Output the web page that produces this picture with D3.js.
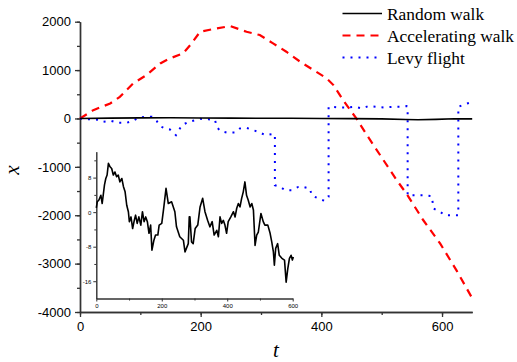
<!DOCTYPE html>
<meta charset="utf-8">
<style>
body { margin: 0; background: #fff; }
svg { display: block; }
.axis path, .axis line { stroke: #333; }
.axis text { font-family: Arial, "Liberation Sans", sans-serif; fill: #000; }
.legend text { font-family: "Liberation Serif", "Times New Roman", serif; font-size: 17.4px; }
.axis-label { font-family: "Liberation Serif", "Times New Roman", serif; font-style: italic; font-size: 21px; }
</style>
<svg width="517" height="362"></svg>
<script src="https://cdnjs.cloudflare.com/ajax/libs/d3/7.8.5/d3.min.js"></script>
<script>

// main random walk (flat near zero on this scale)
var walkT = [0, 50, 100, 150, 200, 250, 300, 350, 400, 450, 500, 540, 560, 590, 620, 650];
var walkX = [0, 8, 12, 15, 10, 8, 5, 3, 0, -3, -8, -20, -25, -18, -5, -8];

// accelerating walk
var accelT = [0, 22, 50, 66, 88, 110, 133, 149, 171, 185, 199, 221, 249, 276, 298, 320, 342, 365, 387, 409, 420, 436, 458, 481, 503, 525, 541, 569, 597, 624, 652];
var accelX = [0, 172, 310, 447, 724, 896, 1138, 1241, 1345, 1552, 1792, 1848, 1910, 1792, 1724, 1552, 1380, 1172, 1000, 828, 690, 379, 0, -449, -863, -1277, -1552, -2104, -2587, -3139, -3760];

// levy flight (jumps are the repeated times)
var levyT = [0, 14, 27, 39, 52, 63, 77, 88, 97, 108, 119, 127, 133, 141, 149, 159, 169, 180, 191, 199, 213, 224, 226, 232, 243, 257, 265, 276, 287, 296, 307, 318, 323, 323, 332, 340, 351, 362, 370, 381, 384, 395, 406, 412, 412, 417, 431, 445, 456, 467, 478, 492, 503, 517, 530, 541, 543, 543, 555, 569, 583, 586, 597, 605, 616, 627, 627, 638, 652];
var levyX = [0, -15, -20, -70, -50, -90, -90, -50, 20, 35, 35, -50, -160, -207, -228, -345, -138, -70, -35, -8, -15, -35, -160, -256, -290, -290, -207, -194, -242, -277, -345, -324, -330, -1380, -1414, -1483, -1483, -1414, -1414, -1448, -1587, -1655, -1705, -1620, 240, 240, 228, 228, 240, 207, 255, 240, 228, 240, 240, 255, 250, -1587, -1587, -1587, -1607, -1862, -1931, -2000, -2000, -2000, 240, 296, 345];

// inset: random walk at its own scale
var insetT = [0, 3, 8, 14, 18, 25, 29, 33, 37, 42, 47, 52, 57, 62, 67, 72, 78, 83, 88, 93, 98, 101, 106, 111, 116, 120, 125, 130, 136, 141, 146, 151, 156, 161, 166, 170, 176, 181, 188, 192, 200, 206, 213, 220, 230, 240, 245, 255, 266, 271, 281, 284, 286, 291, 296, 302, 310, 317, 325, 332, 340, 347, 354, 360, 368, 373, 378, 383, 388, 393, 398, 403, 411, 419, 424, 429, 434, 439, 444, 449, 454, 459, 464, 470, 475, 480, 485, 490, 495, 503, 510, 515, 524, 531, 536, 541, 544, 548, 554, 559, 567, 575, 580, 585, 590, 595, 599, 602];
var insetX = [1, 2.4, 2.8, 3.9, 2.0, 6.3, 7.8, 8.6, 11.3, 10.5, 10.1, 8.6, 9.3, 8.2, 8.6, 7.0, 7.8, 5.9, 4.7, 1.6, 0.1, -2.2, -1.1, -3.8, -1.9, -0.7, -2.6, -1.1, -3.0, 0.1, -2.2, -1.1, -2.2, -4.9, -3.0, -8.8, -6.5, -5.3, -5.3, -3.0, -2.6, 1.0, 5.5, 2.0, 2.4, 0.1, -3.4, -5.7, -6.5, -9.2, -7.3, -1.1, -1.1, -6.9, -7.3, -3.8, -3.0, 1.2, 3.2, 0.1, -1.9, -3.4, -2.2, -5.3, -4.2, -5.7, -1.1, -2.6, -1.9, -3.0, -4.9, -2.2, -1.1, 0.1, -1.1, 0.9, 2.0, 1.2, 3.2, 4.7, 7.0, 3.9, 2.8, 1.2, 2.0, 0.5, -7.7, -5.3, -4.6, -0.3, -2.2, -3.0, -3.0, -4.9, -6.9, -9.2, -12.3, -8.4, -7.3, -10.0, -10.7, -11.1, -16.2, -13.1, -10.7, -10.0, -11.1, -10.4];

var legendNames = ["Random walk", "Accelerating walk", "Levy flight"];

var svg = d3.select("svg");

var x = d3.scaleLinear().domain([0, 650]).range([80, 472.2]),
    y = d3.scaleLinear().domain([-4000, 2000]).range([312, 21.7]);

var plain = function(d) { return String(d); };

function zip(ts, vs) { return ts.map(function(t, i) { return [t, vs[i]]; }); }

var line = d3.line()
    .x(function(d) { return x(d[0]); })
    .y(function(d) { return y(d[1]); });

// main axes
svg.append("g")
    .attr("class", "axis")
    .attr("transform", "translate(80,0)")
    .call(d3.axisLeft(y).tickValues(d3.range(-4000, 2001, 500)).tickFormat("").tickSize(3).tickSizeOuter(0));
svg.append("g")
    .attr("class", "axis")
    .attr("transform", "translate(80,0)")
    .call(d3.axisLeft(y).tickValues(d3.range(-4000, 2001, 1000)).tickFormat(plain).tickSize(5).tickSizeOuter(0).tickPadding(4))
    .selectAll("text").style("font-size", "13px");
svg.append("g")
    .attr("class", "axis")
    .attr("transform", "translate(0,312)")
    .call(d3.axisBottom(x).tickValues(d3.range(0, 651, 100)).tickFormat("").tickSize(3).tickSizeOuter(0));
svg.append("g")
    .attr("class", "axis")
    .attr("transform", "translate(0,312)")
    .call(d3.axisBottom(x).tickValues([0, 200, 400, 600]).tickFormat(plain).tickSize(5).tickSizeOuter(0).tickPadding(5))
    .selectAll("text").style("font-size", "13px");
svg.selectAll(".axis path").attr("stroke-width", 1.4);
svg.selectAll(".axis line").attr("stroke-width", 1.3);

svg.append("text")
    .attr("class", "axis-label")
    .attr("transform", "translate(19,170) rotate(-90)")
    .attr("text-anchor", "middle")
    .text("x");
svg.append("text")
    .attr("class", "axis-label")
    .attr("x", 276)
    .attr("y", 357)
    .attr("text-anchor", "middle")
    .text("t");

// series
svg.append("path")
    .datum(zip(accelT, accelX))
    .attr("fill", "none")
    .attr("stroke", "#ff0000")
    .attr("stroke-width", 2.2)
    .attr("stroke-dasharray", "8,6")
    .attr("d", line);

svg.append("path")
    .datum(zip(levyT, levyX))
    .attr("fill", "none")
    .attr("stroke", "#0000ff")
    .attr("stroke-width", 2)
    .attr("stroke-dasharray", "2,6")
    .attr("d", line);

svg.append("path")
    .datum(zip(walkT, walkX))
    .attr("fill", "none")
    .attr("stroke", "#000")
    .attr("stroke-width", 1.6)
    .attr("d", line);

// inset
var ix = d3.scaleLinear().domain([0, 600]).range([96.3, 292.7]),
    iy = d3.scaleLinear().domain([-20, 14]).range([298.5, 151.7]);

var inset = svg.append("g");
inset.append("g")
    .attr("class", "axis")
    .attr("transform", "translate(96.3,0)")
    .call(d3.axisLeft(iy).tickValues([-12, -4, 4, 12]).tickFormat("").tickSize(2).tickSizeOuter(0));
inset.append("g")
    .attr("class", "axis")
    .attr("transform", "translate(96.3,0)")
    .call(d3.axisLeft(iy).tickValues([-16, -8, 0, 8]).tickFormat(plain).tickSize(3).tickSizeOuter(0).tickPadding(2))
    .selectAll("text").style("font-size", "6px");
inset.append("g")
    .attr("class", "axis")
    .attr("transform", "translate(0,298.5)")
    .call(d3.axisBottom(ix).tickValues([100, 300, 500]).tickFormat("").tickSize(2).tickSizeOuter(0));
inset.append("g")
    .attr("class", "axis")
    .attr("transform", "translate(0,298.5)")
    .call(d3.axisBottom(ix).tickValues([0, 200, 400, 600]).tickFormat(plain).tickSize(3).tickSizeOuter(0).tickPadding(2))
    .selectAll("text").style("font-size", "6px");
inset.selectAll(".axis path").attr("stroke-width", 1);
inset.selectAll(".axis line").attr("stroke-width", 1);

inset.append("path")
    .datum(zip(insetT, insetX))
    .attr("fill", "none")
    .attr("stroke", "#000")
    .attr("stroke-width", 1.6)
    .attr("stroke-linejoin", "round")
    .attr("d", d3.line()
        .x(function(d) { return ix(d[0]); })
        .y(function(d) { return iy(d[1]); }));

// legend
var styles = [
  {color: "#000", dash: null, width: 1.6},
  {color: "#ff0000", dash: "8,6", width: 2.2},
  {color: "#0000ff", dash: "2,6", width: 2}
];

var legend = svg.append("g")
    .attr("class", "legend")
    .selectAll("g")
    .data(legendNames)
  .enter().append("g")
    .attr("transform", function(d, i) { return "translate(0," + (13.5 + i * 22) + ")"; });

legend.append("line")
    .attr("x1", 342.5)
    .attr("x2", 382)
    .attr("stroke", function(d, i) { return styles[i].color; })
    .attr("stroke-width", function(d, i) { return styles[i].width; })
    .attr("stroke-dasharray", function(d, i) { return styles[i].dash; });

legend.append("text")
    .attr("x", 387)
    .attr("y", 6)
    .text(function(d) { return d; });

</script>
